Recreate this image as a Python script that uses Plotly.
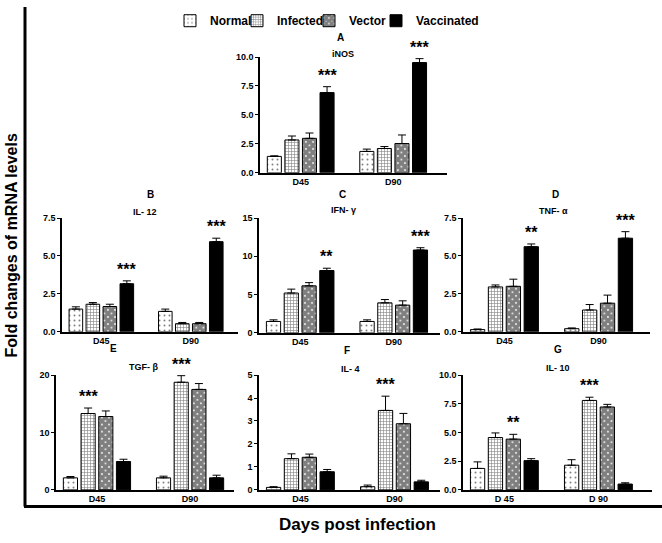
import plotly.graph_objects as go

W, H = 662, 543

groups = ["Normal", "Infected", "Vector", "Vaccinated"]
days = ["D45", "D90"]
days_g = ["D 45", "D 90"]

# mean values [group][day]  and upper error [group][day]
inos_mean = [[1.42, 1.85], [2.84, 2.10], [2.98, 2.53], [6.93, 9.52]]
inos_err = [[0.05, 0.20], [0.34, 0.17], [0.46, 0.74], [0.51, 0.34]]
il12_mean = [[1.50, 1.35], [1.82, 0.54], [1.67, 0.54], [3.17, 5.94]]
il12_err = [[0.15, 0.15], [0.11, 0.08], [0.15, 0.08], [0.19, 0.23]]
ifng_mean = [[1.49, 1.49], [5.20, 3.92], [6.14, 3.62], [8.14, 10.82]]
ifng_err = [[0.21, 0.21], [0.51, 0.43], [0.42, 0.56], [0.30, 0.30]]
tnfa_mean = [[0.15, 0.21], [2.96, 1.44], [3.00, 1.89], [5.61, 6.17]]
tnfa_err = [[0.04, 0.05], [0.13, 0.36], [0.47, 0.53], [0.18, 0.43]]
tgfb_mean = [[2.10, 2.10], [13.30, 18.75], [12.78, 17.50], [4.94, 2.10]]
tgfb_err = [[0.23, 0.29], [0.96, 1.14], [0.97, 1.02], [0.40, 0.46]]
il4_mean = [[0.11, 0.14], [1.36, 3.46], [1.42, 2.88], [0.79, 0.35]]
il4_err = [[0.03, 0.07], [0.21, 0.62], [0.14, 0.45], [0.10, 0.07]]
il10_mean = [[1.87, 2.15], [4.56, 7.79], [4.42, 7.22], [2.55, 0.51]]
il10_err = [[0.57, 0.48], [0.40, 0.28], [0.42, 0.23], [0.17, 0.11]]

# (letter, title, mean, err, ticklabels, ymax, dtick, fmt)
panels = [
    ("A", "iNOS", inos_mean, inos_err, days, 10, 2.5, ".1f"),
    ("B", "IL- 12", il12_mean, il12_err, days, 7.5, 2.5, ".1f"),
    ("C", "IFN- γ", ifng_mean, ifng_err, days, 15, 5, "d"),
    ("D", "TNF- α", tnfa_mean, tnfa_err, days, 7.5, 2.5, ".1f"),
    ("E", "TGF- β", tgfb_mean, tgfb_err, days, 20, 10, "d"),
    ("F", "IL- 4", il4_mean, il4_err, days, 5, 1, "d"),
    ("G", "IL- 10", il10_mean, il10_err, days_g, 10, 2.5, ".1f"),
]

# significance marks: (panel index, day index, group index, text)
stars = [
    (0, 0, 3, "***"), (0, 1, 3, "***"),
    (1, 0, 3, "***"), (1, 1, 3, "***"),
    (2, 0, 3, "**"), (2, 1, 3, "***"),
    (3, 0, 3, "**"), (3, 1, 3, "***"),
    (4, 0, 1, "***"), (4, 1, 1, "***"),
    (5, 1, 1, "***"),
    (6, 0, 2, "**"), (6, 1, 1, "***"),
]

# layout geometry in pixels: x0, x1, y_bottom, y_top, x range end, letter pos, title pos
geom = [
    (260, 447, 171, 53, 1.582, (340, 33), (343, 50)),
    (62, 238, 333, 217, 1.528, (150, 193), (145, 211)),
    (259, 440, 334, 217, 1.494, (342, 193), (343, 209)),
    (463, 650, 333, 217, 1.546, (555, 193), (553, 210)),
    (56, 234, 494, 377, 1.472, (113, 350), (143, 369)),
    (259, 440, 494, 377, 1.484, (347, 352), (350, 371)),
    (463, 652, 494, 377, 1.570, (558, 351), (558, 370)),
]

# legend entry left edges (px)
legend_x = [170, 237, 309, 376]

def px(x):
    return x / W

def py(y):
    return 1 - y / H

patterns = [
    dict(shape=".", size=5, solidity=0.12, fgcolor="black", bgcolor="white"),
    dict(shape="+", size=3, solidity=0.35, fgcolor="black", bgcolor="white"),
    dict(shape="x", size=5, solidity=0.9, fgcolor="black", bgcolor="white"),
    None,
]

BARGAP = 0.24
fig = go.Figure()
annotations = []
FONT = "Liberation Sans, Arial, sans-serif"
legend_names = ["legend", "legend2", "legend3", "legend4"]

for pi, (letter, title, mean, err, tl, ymax, dtick, fmt) in enumerate(panels):
    sfx = "" if pi == 0 else str(pi + 1)
    xa, ya = "x" + sfx, "y" + sfx
    for gi, g in enumerate(groups):
        marker = dict(color="black" if gi == 3 else "white",
                      line=dict(color="black", width=1))
        if patterns[gi] is not None:
            marker["pattern"] = patterns[gi]
        fig.add_trace(go.Bar(
            x=[0, 1], y=mean[gi], name=g, xaxis=xa, yaxis=ya,
            marker=marker, showlegend=(pi == 0), legendgroup=g,
            legend=legend_names[gi],
            error_y=dict(type="data", symmetric=False, array=err[gi],
                         arrayminus=[0, 0], color="black", thickness=1, width=4),
        ))
    x0, x1, yb, yt, r1, lpos, tpos = geom[pi]
    axkey = "xaxis" + sfx
    aykey = "yaxis" + sfx
    fig.layout[axkey] = dict(
        domain=[px(x0), px(x1)], range=[-0.44, r1], anchor=ya,
        tickvals=[0, 1], ticktext=tl, showline=True, linecolor="black", linewidth=1.5,
        ticks="", showgrid=False, zeroline=False,
        tickfont=dict(family=FONT, size=9, color="black", weight="bold"),
    )
    fig.layout[aykey] = dict(
        domain=[py(yb), py(yt)], range=[0, ymax], anchor=xa,
        dtick=dtick, tick0=0, tickformat=fmt, showline=True, linecolor="black", linewidth=1.5,
        ticks="outside", ticklen=3, tickwidth=1, tickcolor="black", showgrid=False, zeroline=False,
        tickfont=dict(family=FONT, size=9, color="black", weight="bold"),
    )
    annotations.append(dict(text="<b>" + letter + "</b>", x=px(lpos[0]), y=py(lpos[1]),
                            xref="paper", yref="paper", showarrow=False,
                            xanchor="center", yanchor="middle",
                            font=dict(family=FONT, size=10, color="black")))
    annotations.append(dict(text="<b>" + title + "</b>", x=px(tpos[0]), y=py(tpos[1]),
                            xref="paper", yref="paper", showarrow=False,
                            xanchor="center", yanchor="middle",
                            font=dict(family=FONT, size=9, color="black")))

slot = (1 - BARGAP) / 4
for pi, di, gi, txt in stars:
    sfx = "" if pi == 0 else str(pi + 1)
    mean, err = panels[pi][2], panels[pi][3]
    xpos = di - (1 - BARGAP) / 2 + (gi + 0.5) * slot
    annotations.append(dict(text="<b>" + txt + "</b>", x=xpos, y=mean[gi][di] + err[gi][di],
                            xref="x" + sfx, yref="y" + sfx, showarrow=False,
                            xanchor="center", yanchor="bottom", yshift=1,
                            font=dict(family=FONT, size=16, color="black")))

annotations.append(dict(text="<b>Fold changes of mRNA levels</b>", x=px(11), y=py(245),
                        xref="paper", yref="paper", showarrow=False, textangle=-90,
                        xanchor="center", yanchor="middle",
                        font=dict(family=FONT, size=16, color="black")))
annotations.append(dict(text="<b>Days post infection</b>", x=px(357), y=py(529),
                        xref="paper", yref="paper", showarrow=False,
                        xanchor="center", yanchor="middle",
                        font=dict(family=FONT, size=17, color="black")))

shapes = [
    dict(type="line", xref="paper", yref="paper", x0=px(25), x1=px(25), y0=py(2), y1=py(511),
         line=dict(color="black", width=3)),
    dict(type="line", xref="paper", yref="paper", x0=px(24), x1=1, y0=py(511), y1=py(511),
         line=dict(color="black", width=3)),
]

legend_common = dict(orientation="h", xanchor="left", y=py(16), yanchor="middle",
                     font=dict(family=FONT, size=12, color="black", weight="bold"),
                     bgcolor="rgba(0,0,0,0)", itemwidth=30, borderwidth=0)

fig.update_layout(
    width=W, height=H, margin=dict(l=0, r=0, t=0, b=0),
    plot_bgcolor="white", paper_bgcolor="white",
    barmode="group", bargap=BARGAP, bargroupgap=0.2,
    annotations=annotations, shapes=shapes,
    showlegend=True,
)
for li, ln in enumerate(legend_names):
    fig.layout[ln] = dict(legend_common, x=px(legend_x[li]))

fig.write_html("out.html", config={"displayModeBar": False},
               post_script="document.body.style.margin='0';")
